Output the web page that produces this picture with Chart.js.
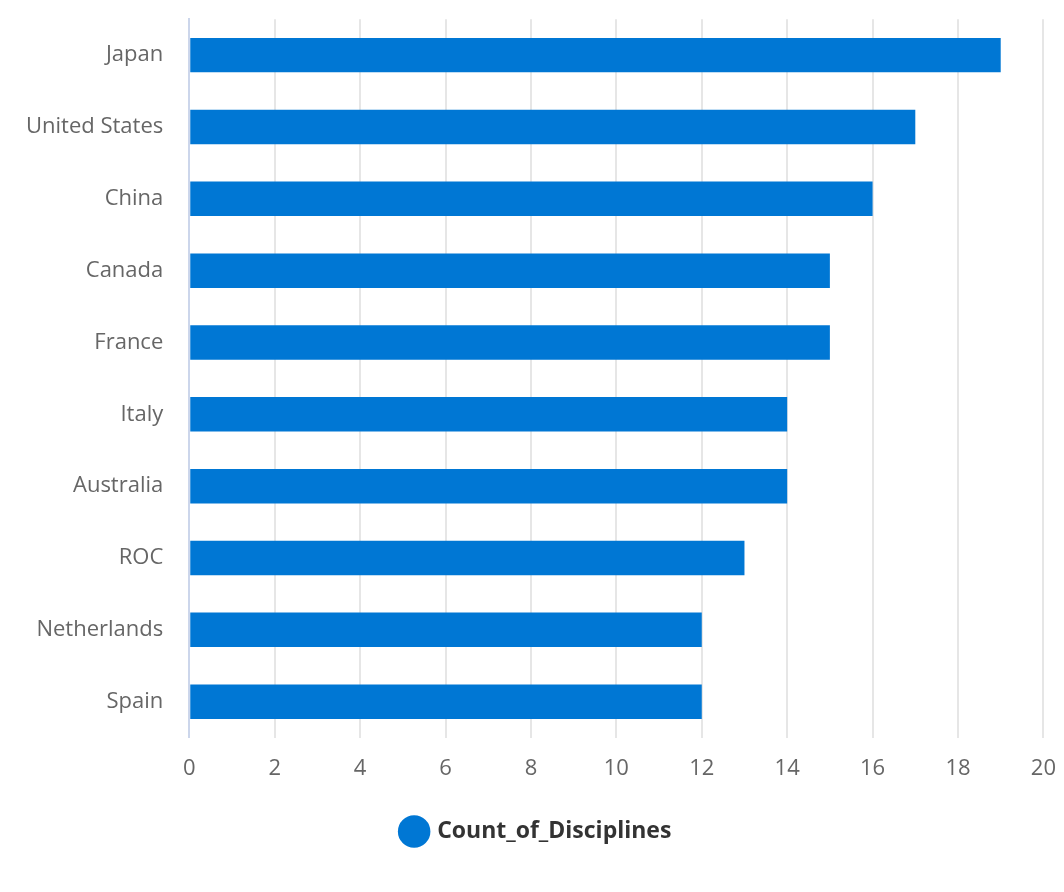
<!DOCTYPE html>
<html>
<head>
<meta charset="utf-8">
<script src="https://cdn.jsdelivr.net/npm/chart.js@4"></script>
<style>
  html, body { margin: 0; padding: 0; background: #fff; overflow: hidden; }
  #wrap { width: 1074px; height: 897px; margin-top: -20px; }
</style>
</head>
<body>
<div id="wrap"><canvas id="myBarChart"></canvas></div>
<script>
const countries = ['Japan', 'United States', 'China', 'Canada', 'France', 'Italy', 'Australia', 'ROC', 'Netherlands', 'Spain'];
const disciplineCounts = [19, 17, 16, 15, 15, 14, 14, 13, 12, 12];
const seriesName = 'Count_of_Disciplines';

const font = "'Open Sans', 'DejaVu Sans', sans-serif";

function drawBars() {
    const ctx = document.getElementById('myBarChart').getContext('2d');
    const config = {
        type: 'bar',
        data: {
            labels: countries,
            datasets: [{
                label: seriesName,
                data: disciplineCounts,
                backgroundColor: '#0077d4', // same blue for every bar
                borderWidth: 0,
                barPercentage: 0.48,
                categoryPercentage: 1.0
            }]
        },
        options: {
            indexAxis: 'y',
            responsive: true,
            maintainAspectRatio: false,
            animation: false,
            layout: { padding: { top: 0, right: 0, left: 0, bottom: 24 } },
            scales: {
                x: {
                    min: 0,
                    max: 20,
                    ticks: { stepSize: 2, color: '#666', font: { family: font, size: 22 }, padding: 18 },
                    grid: { color: '#e6e6e6', lineWidth: 2, drawTicks: false },
                    border: { display: false }
                },
                y: {
                    ticks: { color: '#666', font: { family: font, size: 22 }, padding: 26 },
                    grid: { display: false, drawTicks: false },
                    border: { color: '#ccd6eb', width: 2 }
                }
            },
            plugins: {
                legend: {
                    position: 'bottom',
                    labels: {
                        usePointStyle: true,
                        pointStyle: 'circle',
                        boxWidth: 24,
                        boxHeight: 24,
                        color: '#333',
                        padding: 20,
                        font: { family: font, size: 23, weight: 'bold' }
                    }
                },
                tooltip: { enabled: false }
            }
        }
    };
    new Chart(ctx, config);
}

window.onload = function() {
    drawBars();
};
</script>
</body>
</html>
